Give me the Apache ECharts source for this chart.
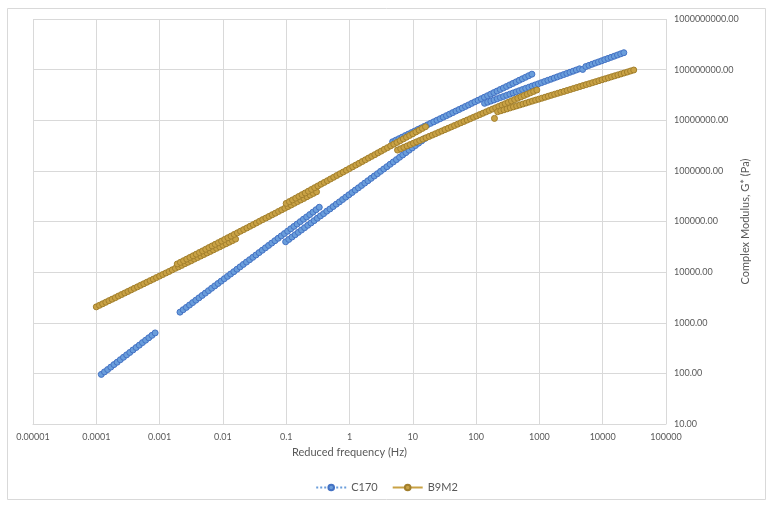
<!DOCTYPE html>
<html>
<head>
<meta charset="utf-8">
<script src="https://cdn.jsdelivr.net/npm/echarts@6/dist/echarts.min.js"></script>
<style>
  html, body { margin: 0; padding: 0; background: #fff; }
  #chart { width: 773px; height: 508px; }
</style>
</head>
<body>
<div id="chart"></div>
<script>
// test frequencies of one sweep (Hz), before the shift to reduced frequency
var sweepFreq = [0.1, 0.1122, 0.1259, 0.1413, 0.1585, 0.1778, 0.1995, 0.2239, 0.2512, 0.2818,
  0.3162, 0.3548, 0.3981, 0.4467, 0.5012, 0.5623, 0.631, 0.7079, 0.7943, 0.8913,
  1, 1.122, 1.259, 1.413, 1.585, 1.778, 1.995, 2.239, 2.512, 2.818,
  3.162, 3.548, 3.981, 4.467, 5.012, 5.623, 6.31, 7.079, 7.943, 8.913,
  10, 11.22, 12.59, 14.13, 15.85];

var xTicks = ['0.00001', '0.0001', '0.001', '0.01', '0.1', '1', '10', '100', '1000', '10000', '100000'];
var yTicks = ['10.00', '100.00', '1000.00', '10000.00', '100000.00', '1000000.00',
  '10000000.00', '100000000.00', '1000000000.00'];

// C170 - shift factor per temperature, G* (Pa) per point
var c170Shift = [0.0012, 0.021, 0.98, 48, 1360];
var c170_1 = [95.5, 107, 119, 133, 149, 166, 186, 208, 232, 259, 290, 324, 361, 405, 452, 505, 564, 630];
var c170_2 = [1620, 1810, 2010, 2240, 2500, 2790, 3100, 3460, 3850, 4300, 4800, 5350, 5960, 6640, 7400,
  8240, 9180, 10200, 11400, 12700, 14200, 15800, 17600, 19600, 21800, 24300, 27100, 30200, 33700, 37500,
  41800, 46600, 51900, 57800, 64400, 71800, 80000, 89100, 99300, 111000, 123000, 137000, 153000, 171000, 191000];
var c170_3 = [39800, 44300, 49300, 54800, 61000, 67900, 75500, 84100, 93500, 104000, 116000, 129000, 143000,
  160000, 177000, 197000, 220000, 244000, 272000, 303000, 337000, 374000, 417000, 463000, 516000, 574000,
  638000, 711000, 791000, 879000, 979000, 1.09e6, 1.21e6, 1.349e6, 1.50e6, 1.667e6, 1.858e6, 2.065e6,
  2.296e6, 2.559e6, 2.844e6, 3.162e6, 3.524e6, 3.917e6, 4.365e6];
var c170_4 = [3.76e6, 4.03e6, 4.32e6, 4.63e6, 4.97e6, 5.33e6, 5.71e6, 6.12e6, 6.58e6, 7.05e6, 7.55e6, 8.11e6,
  8.69e6, 9.31e6, 1.0e7, 1.072e7, 1.148e7, 1.233e7, 1.321e7, 1.416e7, 1.521e7, 1.629e7, 1.746e7, 1.875e7,
  2.009e7, 2.158e7, 2.312e7, 2.477e7, 2.661e7, 2.851e7, 3.055e7, 3.281e7, 3.516e7, 3.767e7, 4.046e7,
  4.335e7, 4.645e7, 4.989e7, 5.346e7, 5.728e7, 6.152e7, 6.592e7, 7.063e7, 7.586e7, 8.128e7];
var c170_5 = [2.158e7, 2.275e7, 2.393e7, 2.523e7, 2.661e7, 2.805e7, 2.951e7, 3.112e7, 3.281e7, 3.459e7,
  3.639e7, 3.837e7, 4.046e7, 4.266e7, 4.487e7, 4.732e7, 4.989e7, 5.248e7, 5.534e7, 5.834e7, 6.152e7,
  6.471e7, 6.823e7, 7.194e7, 7.586e7, 7.98e7, 8.414e7, 8.872e7, 9.333e7, 9.84e7, 1.038e8, 1.009e8,
  1.151e8, 1.213e8, 1.279e8, 1.349e8, 1.419e8, 1.496e8, 1.578e8, 1.663e8, 1.75e8, 1.845e8, 1.945e8,
  2.051e8, 2.158e8];

// B9M2
var b9m2Shift = [0.001, 0.019, 1, 57.4, 1950];
var b9m2_1 = [2060, 2210, 2370, 2540, 2730, 2920, 3130, 3370, 3610, 3870, 4150, 4460, 4780, 5120, 5500,
  5890, 6320, 6780, 7260, 7800, 8360, 8970, 9620, 10300, 11100, 11900, 12700, 13600, 14700, 15700,
  16800, 18100, 19400, 20800, 22300, 23900, 25600, 27500, 29500, 31600, 34000, 36400, 39000, 41900, 44900];
var b9m2_2 = [14500, 15600, 16800, 18100, 19500, 21000, 22600, 24400, 26200, 28300, 30500, 32900, 35400,
  38200, 41100, 44300, 47800, 51400, 55500, 59700, 64400, 69300, 74600, 80500, 86700, 93500, 101000,
  109000, 117000, 126000, 136000, 146000, 158000, 170000, 183000, 197000, 212000, 229000, 247000,
  266000, 286000, 309000, 333000, 359000, 386000];
var b9m2_3 = [228000, 247000, 267000, 289000, 313000, 339000, 366000, 397000, 430000, 466000, 504000,
  546000, 590000, 638000, 692000, 748000, 811000, 877000, 948000, 1.028e6, 1.112e6, 1.205e6, 1.303e6,
  1.409e6, 1.528e6, 1.652e6, 1.791e6, 1.936e6, 2.094e6, 2.27e6, 2.455e6, 2.661e6, 2.877e6, 3.119e6,
  3.373e6, 3.648e6, 3.954e6, 4.276e6, 4.634e6, 5.012e6, 5.42e6, 5.875e6, 6.353e6, 6.887e6, 7.447e6];
var b9m2_4 = [2.576e6, 2.742e6, 2.917e6, 3.105e6, 3.304e6, 3.516e6, 3.741e6, 3.981e6, 4.236e6, 4.508e6,
  4.797e6, 5.093e6, 5.42e6, 5.768e6, 6.138e6, 6.531e6, 6.95e6, 7.396e6, 7.87e6, 8.375e6, 8.913e6,
  9.484e6, 1.009e7, 1.074e7, 1.143e7, 1.216e7, 1.294e7, 1.377e7, 1.466e7, 1.56e7, 1.66e7, 1.762e7,
  1.875e7, 1.995e7, 2.123e7, 2.259e7, 2.404e7, 2.559e7, 2.723e7, 2.897e7, 3.083e7, 3.281e7, 3.491e7,
  3.715e7, 3.954e7];
var b9m2_5 = [1.089e7, 1.472e7, 1.538e7, 1.607e7, 1.679e7, 1.758e7, 1.837e7, 1.919e7, 2.004e7, 2.094e7,
  2.188e7, 2.291e7, 2.393e7, 2.5e7, 2.612e7, 2.729e7, 2.851e7, 2.985e7, 3.119e7, 3.258e7, 3.404e7,
  3.556e7, 3.715e7, 3.882e7, 4.055e7, 4.246e7, 4.436e7, 4.634e7, 4.842e7, 5.058e7, 5.284e7, 5.534e7,
  5.781e7, 6.039e7, 6.31e7, 6.592e7, 6.887e7, 7.211e7, 7.534e7, 7.87e7, 8.222e7, 8.59e7, 8.974e7,
  9.397e7, 9.817e7];

var textColor = '#595959';
var gridColor = '#D9D9D9';
var font = 'Lato';

function sweeps(name, shifts, lists, fill, edge, dash) {
  return lists.map(function (g, i) {
    return {
      name: name,
      type: 'line',
      symbol: 'circle',
      symbolSize: 6,
      showAllSymbol: true,
      lineStyle: { color: fill, width: 1, type: dash },
      itemStyle: { color: fill, borderColor: edge, borderWidth: 1 },
      data: g.map(function (v, k) { return [sweepFreq[k] * shifts[i], v]; })
    };
  });
}

var series = []
  .concat(sweeps('C170', c170Shift, [c170_1, c170_2, c170_3, c170_4, c170_5], '#6A9EDB', '#4472C4', 'dotted'))
  .concat(sweeps('B9M2', b9m2Shift, [b9m2_1, b9m2_2, b9m2_3, b9m2_4, b9m2_5], '#C9A245', '#A27F2C', 'solid'));

var chart = echarts.init(document.getElementById('chart'));
chart.setOption({
  animation: false,
  backgroundColor: '#fff',
  textStyle: { fontFamily: font },
  graphic: [{
    type: 'rect',
    shape: { x: 7.5, y: 8.5, width: 758, height: 491 },
    style: { fill: 'none', stroke: gridColor, lineWidth: 1 },
    silent: true
  }],
  grid: { left: 33, right: 107, top: 19, bottom: 84 },
  legend: {
    data: ['C170', 'B9M2'],
    left: 'center',
    top: 477,
    itemWidth: 30,
    itemHeight: 7,
    itemGap: 14,
    textStyle: { color: textColor, fontSize: 11, fontFamily: font }
  },
  xAxis: {
    type: 'log',
    logBase: 10,
    min: 0.00001,
    max: 100000,
    interval: 1,
    name: 'Reduced frequency (Hz)',
    nameLocation: 'middle',
    nameGap: 22,
    nameTextStyle: { color: textColor, fontSize: 11, fontFamily: font },
    axisLine: { show: true, lineStyle: { color: gridColor } },
    axisTick: { show: false },
    splitLine: { show: true, lineStyle: { color: gridColor, width: 1 } },
    axisLabel: {
      color: textColor, fontSize: 9, margin: 9, fontFamily: font,
      formatter: function (v) { return xTicks[Math.round(Math.log10(v)) + 5]; }
    }
  },
  yAxis: {
    type: 'log',
    logBase: 10,
    position: 'right',
    min: 10,
    max: 1000000000,
    interval: 1,
    name: 'Complex Modulus, G* (Pa)',
    nameLocation: 'middle',
    nameRotate: 90,
    nameGap: 74,
    nameMoveOverlap: false,
    nameTextStyle: { color: textColor, fontSize: 11, fontFamily: font },
    axisLine: { show: false },
    axisTick: { show: false },
    splitLine: { show: true, lineStyle: { color: gridColor, width: 1 } },
    axisLabel: {
      color: textColor, fontSize: 9, margin: 8, fontFamily: font,
      formatter: function (v) { return yTicks[Math.round(Math.log10(v)) - 1]; }
    }
  },
  series: series
});
</script>
</body>
</html>
